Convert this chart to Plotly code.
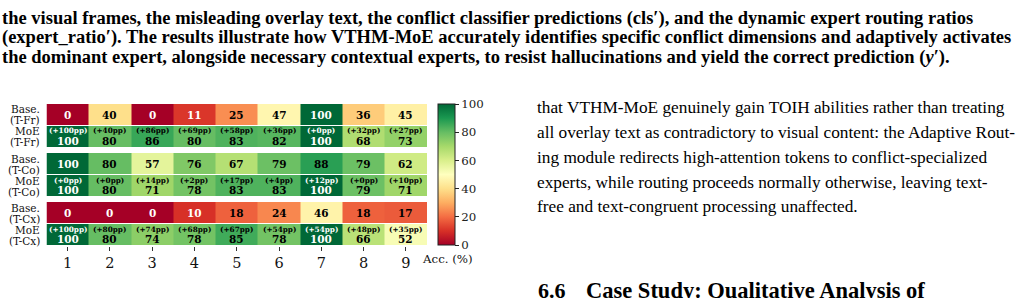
import plotly.graph_objects as go
import plotly.colors as pc

W, H = 1024, 298

# ---------------- data ----------------
columns = [1, 2, 3, 4, 5, 6, 7, 8, 9]
group_names = ["T-Fr", "T-Co", "T-Cx"]
base_fr = [0, 40, 0, 11, 25, 47, 100, 36, 45]
moe_fr = [100, 80, 86, 80, 83, 82, 100, 68, 73]
gain_fr = [100, 40, 86, 69, 58, 36, 0, 32, 27]
base_co = [100, 80, 57, 76, 67, 79, 88, 79, 62]
moe_co = [100, 80, 71, 78, 83, 83, 100, 79, 71]
gain_co = [0, 0, 14, 2, 17, 4, 12, 0, 10]
base_cx = [0, 0, 0, 10, 18, 24, 46, 18, 17]
moe_cx = [100, 80, 74, 78, 85, 78, 100, 66, 52]
gain_cx = [100, 80, 74, 68, 67, 54, 54, 48, 35]
cbar_ticks = [0, 20, 40, 60, 80, 100]

caption_lines = [
    "the visual frames, the misleading overlay text, the conflict classifier predictions (cls\u2032), and the dynamic expert routing ratios",
    "(expert_ratio\u2032). The results illustrate how VTHM-MoE accurately identifies specific conflict dimensions and adaptively activates",
    "the dominant expert, alongside necessary contextual experts, to resist hallucinations and yield the correct prediction (<i>y</i>\u2032).",
]
para_lines = [
    "that VTHM-MoE genuinely gain TOIH abilities rather than treating",
    "all overlay text as contradictory to visual content: the Adaptive Rout-",
    "ing module redirects high-attention tokens to conflict-specialized",
    "experts, while routing proceeds normally otherwise, leaving text-",
    "free and text-congruent processing unaffected.",
]
heading_num = "6.6"
heading_text = "Case Study: Qualitative Analysis of"

groups = [
    (group_names[0], base_fr, moe_fr, gain_fr),
    (group_names[1], base_co, moe_co, gain_co),
    (group_names[2], base_cx, moe_cx, gain_cx),
]

# ---------------- layout helpers ----------------
def px_y(p):
    return 1 - p / H

def px_x(p):
    return p / W

group_px = [(104, 147.5), (153, 197), (202, 246)]
SERIF = "DejaVu Serif"
colorscale = [[i / 10, c] for i, c in enumerate(pc.diverging.RdYlGn)]

fig = go.Figure()
annotations = []

def txt_color(v):
    return "white" if (v <= 12 or v >= 90) else "black"

for gi, (name, base, moe, gain) in enumerate(groups):
    yname = "y" if gi == 0 else f"y{gi + 1}"
    fig.add_trace(go.Heatmap(
        z=[base, moe], x=columns, y=[0, 1],
        coloraxis="coloraxis", xaxis="x", yaxis=yname,
        ygap=1, xgap=0, hoverinfo="skip",
    ))
    for c, b, m, g in zip(columns, base, moe, gain):
        annotations.append(dict(
            x=c, y=0, xref="x", yref=yname, text=f"<b>{b}</b>", showarrow=False,
            font=dict(family=SERIF, size=10.5, color=txt_color(b)), yshift=0))
        annotations.append(dict(
            x=c, y=1, xref="x", yref=yname, text=f"<b>(+{g}pp)</b>", showarrow=False,
            font=dict(family=SERIF, size=7.3, color=txt_color(m)), yshift=6))
        annotations.append(dict(
            x=c, y=1, xref="x", yref=yname, text=f"<b>{m}</b>", showarrow=False,
            font=dict(family=SERIF, size=10.5, color=txt_color(m)), yshift=-4))
    top, bot = group_px[gi]
    mid = (top + bot) / 2
    for ri, (lab, cy) in enumerate([("Base.", (top + mid) / 2), ("MoE", (mid + bot) / 2)]):
        annotations.append(dict(
            x=px_x(42), y=px_y(cy - 5.5), xref="paper", yref="paper", text=lab,
            xanchor="right", yanchor="middle", showarrow=False,
            font=dict(family=SERIF, size=10.5, color="#111")))
        annotations.append(dict(
            x=px_x(42), y=px_y(cy + 5.5), xref="paper", yref="paper", text=f"({name})",
            xanchor="right", yanchor="middle", showarrow=False,
            font=dict(family=SERIF, size=10.5, color="#111")))

# colorbar label
annotations.append(dict(x=px_x(447), y=px_y(258.5), xref="paper", yref="paper", text="Acc. (%)",
                        showarrow=False, xanchor="center", yanchor="middle",
                        font=dict(family=SERIF, size=11.8, color="#111")))

# caption text (bold)
for i, line in enumerate(caption_lines):
    annotations.append(dict(x=0, y=px_y(18 + 19.5 * i), xref="paper", yref="paper",
                            text=f"<b>{line}</b>", showarrow=False, xanchor="left", yanchor="middle",
                            font=dict(family="Liberation Serif", size=18.5, color="black")))
# paragraph
for i, line in enumerate(para_lines):
    annotations.append(dict(x=px_x(535), y=px_y(108 + 24.7 * i), xref="paper", yref="paper",
                            text=line, showarrow=False, xanchor="left", yanchor="middle",
                            font=dict(family="Liberation Serif", size=17.3, color="black")))
# heading
annotations.append(dict(x=px_x(536), y=px_y(290), xref="paper", yref="paper",
                        text=f"<b>{heading_num}</b>", showarrow=False, xanchor="left", yanchor="middle",
                        font=dict(family="Liberation Serif", size=22, color="black")))
annotations.append(dict(x=px_x(584), y=px_y(290), xref="paper", yref="paper",
                        text=f"<b>{heading_text}</b>", showarrow=False, xanchor="left", yanchor="middle",
                        font=dict(family="Liberation Serif", size=22.5, color="black")))

layout = dict(
    width=W, height=H, margin=dict(l=0, r=0, t=0, b=0),
    paper_bgcolor="white", plot_bgcolor="white", showlegend=False,
    coloraxis=dict(
        colorscale=colorscale, cmin=0, cmax=100,
        colorbar=dict(
            x=px_x(438), xanchor="left", xpad=0, ypad=0,
            y=px_y(104), yanchor="top", len=141, lenmode="pixels",
            thickness=17, thicknessmode="pixels",
            outlinewidth=1, outlinecolor="#222",
            tickvals=cbar_ticks, ticks="outside", ticklen=4, tickcolor="#222",
            tickfont=dict(family=SERIF, size=11.8, color="#222"),
        ),
    ),
    xaxis=dict(domain=[px_x(46.5), px_x(427)], range=[0.5, 9.5], anchor="y3",
               tickvals=columns, ticktext=[str(c) for c in columns],
               ticks="outside", ticklen=4, tickcolor="#333", tickwidth=1,
               showgrid=False, zeroline=False, showline=False,
               tickfont=dict(family=SERIF, size=14.5, color="#111")),
    annotations=annotations,
)
for gi in range(3):
    top, bot = group_px[gi]
    key = "yaxis" if gi == 0 else f"yaxis{gi + 1}"
    layout[key] = dict(domain=[px_y(bot), px_y(top)], range=[1.5, -0.5], anchor="x",
                       showticklabels=False, showgrid=False, zeroline=False, ticks="")

fig.update_layout(**layout)
fig.write_html("out.html")
